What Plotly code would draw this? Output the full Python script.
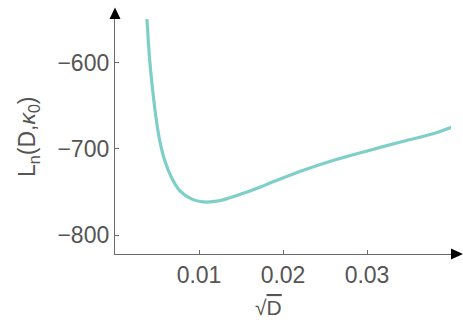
import plotly.graph_objects as go

sqrt_D = [0.0037, 0.00381, 0.00413, 0.00462, 0.00493, 0.00532, 0.00592, 0.00671, 0.0077,
          0.00909, 0.01048, 0.0125, 0.01564, 0.018, 0.02199, 0.02595, 0.02993, 0.03389,
          0.03786, 0.04012]
L_n = [-534, -550.2, -596.9, -643.5, -666.8, -690.1, -713.4, -732.9, -748.4,
       -758.0, -761.5, -760.0, -750.3, -741.4, -726.2, -713.4, -702.6, -692.1,
       -682.3, -674.6]

x_ticks = [0.01, 0.02, 0.03]
x_tick_labels = ["0.01", "0.02", "0.03"]
y_ticks = [-600, -700, -800]
y_tick_labels = ["\u2212600", "\u2212700", "\u2212800"]
x_title = "\u221a<span style='text-decoration:overline'>D</span>"
y_title = "L<sub>n</sub>(D,<i>\u03ba</i><sub>0</sub>)"

axis_color = "#6b6b6b"
text_color = "#555555"
line_color = "#7fcfc9"
font_family = "Liberation Sans, Arial, sans-serif"

fig = go.Figure()
fig.add_trace(go.Scatter(x=sqrt_D, y=L_n, mode="lines",
                         line=dict(color=line_color, width=3.2, shape="spline", smoothing=0.8),
                         hoverinfo="skip", showlegend=False, cliponaxis=True))

W, H = 463, 327
ml, mr, mt, mb = 115, 12, 19, 73
pw, ph = W - ml - mr, H - mt - mb

fig.update_layout(
    width=W, height=H,
    margin=dict(l=ml, r=mr, t=mt, b=mb, autoexpand=False),
    paper_bgcolor="white", plot_bgcolor="white",
    font=dict(family=font_family, color=text_color, size=23),
    xaxis=dict(range=[0, 0.04], showgrid=False, zeroline=False, showline=True, automargin=False,
               linecolor=axis_color, linewidth=1.3, ticks="inside", ticklen=4,
               tickcolor=axis_color, tickwidth=1, tickvals=x_ticks, ticktext=x_tick_labels,
               tickfont=dict(size=23, color=text_color)),
    yaxis=dict(range=[-822, -549], showgrid=False, zeroline=False, showline=True, automargin=False,
               linecolor=axis_color, linewidth=1.3, ticks="inside", ticklen=4,
               tickcolor=axis_color, tickwidth=1, tickvals=y_ticks, ticktext=y_tick_labels,
               tickfont=dict(size=23, color=text_color)),
)

fig.add_annotation(text=x_title, xref="paper", yref="paper",
                   x=(268 - ml) / pw, y=-(307 - (H - mb)) / ph,
                   xanchor="center", yanchor="middle", showarrow=False,
                   font=dict(size=21, color=text_color))
fig.add_annotation(text=y_title, xref="paper", yref="paper", textangle=-90,
                   x=-(ml - 28) / pw, y=((H - mb) - 136) / ph,
                   xanchor="center", yanchor="middle", showarrow=False,
                   font=dict(size=23, color=text_color))

# axis arrowheads
ax = 5.5 / pw
ay = 5.5 / ph
fig.add_shape(type="path", xref="paper", yref="paper",
              path=f"M {-ax},1 L {ax},1 L 0,{1 + 11.5 / ph} Z",
              fillcolor="black", line=dict(width=0))
fig.add_shape(type="path", xref="paper", yref="paper",
              path=f"M 1,{-ay} L 1,{ay} L {1 + 12 / pw},0 Z",
              fillcolor="black", line=dict(width=0))

fig.write_html("out.html", config={"displayModeBar": False},
               post_script="document.body.style.margin='0';document.body.style.overflow='hidden';")
